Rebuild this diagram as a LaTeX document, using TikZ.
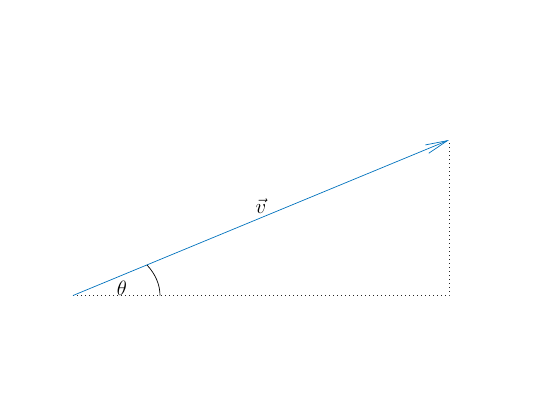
\documentclass[tikz,border=0pt]{standalone}
\usetikzlibrary{arrows.meta,calc}
\definecolor{mblue}{RGB}{0,114,189}
\begin{document}
\begin{tikzpicture}[x=1pt,y=-1pt,
  guide/.style={line width=0.7pt,dash pattern=on 0.8pt off 3.2pt,black!85},
  vec/.style={mblue,line width=0.7pt,-{Straight Barb[length=22pt,width=9pt,line width=0.7pt]}},
  lbl/.style={font=\fontsize{19.5}{22}\selectfont,inner sep=0pt}]
\useasboundingbox (0,0) rectangle (560,420);
\coordinate (O) at (73,295.5);
\coordinate (P) at (449,140);
\coordinate (F) at (449,295.5);
\draw[guide] (O) -- (F) -- (P);
\draw[vec] (O) -- (P);
\draw[line width=0.7pt] ($(O)+(87,0)$) arc[start angle=0,end angle=-31.8,x radius=87,y radius=58];
\node[lbl] (th) at (122,288) {$\theta$};
\node[lbl] (v) at (261,206.5) {$\vec{v}$};
\end{tikzpicture}
\end{document}
